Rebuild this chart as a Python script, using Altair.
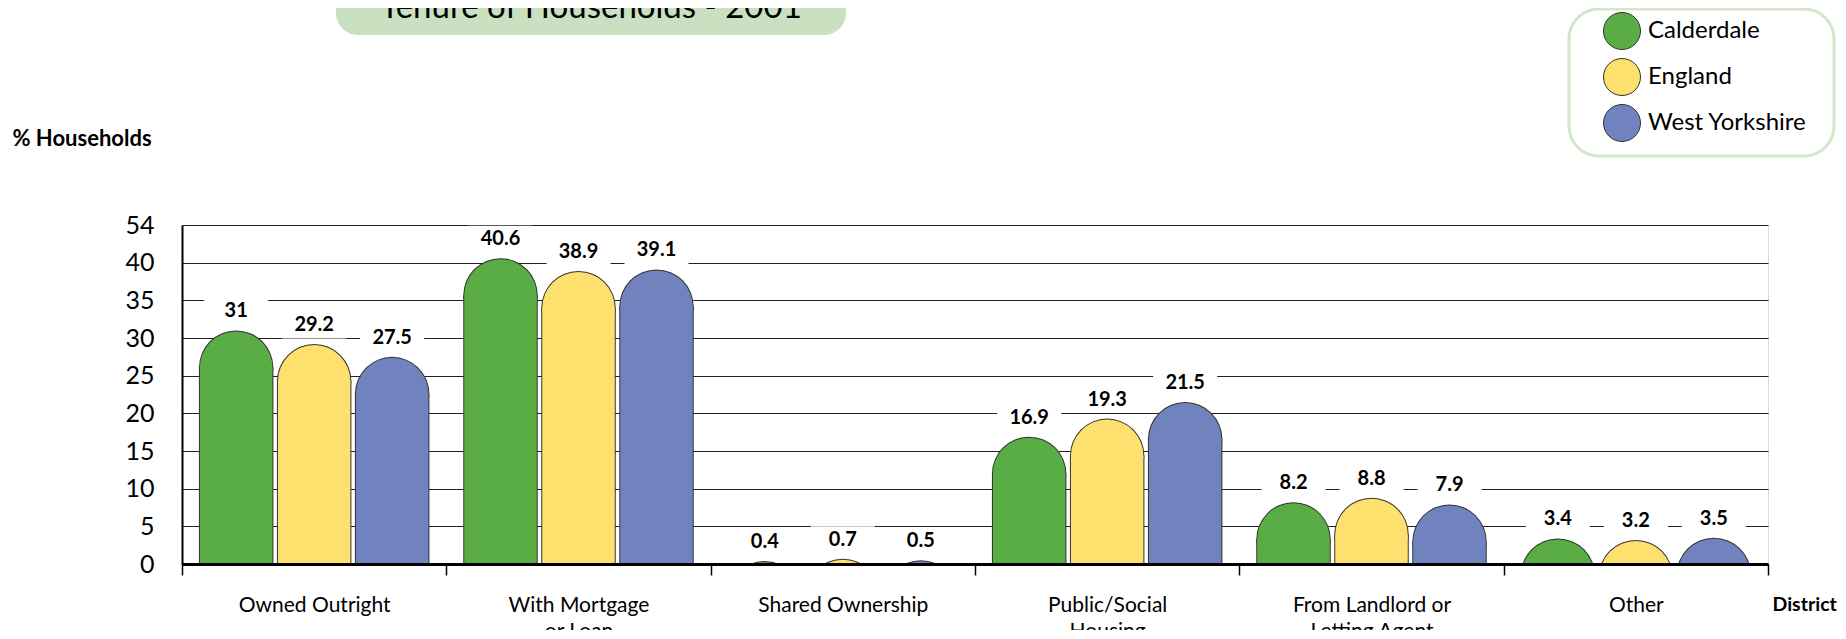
import altair as alt
import pandas as pd

# ---- data ----
categories = ["Owned Outright", "With Mortgage\nor Loan", "Shared Ownership",
              "Public/Social\nHousing", "From Landlord or\nLetting Agent", "Other"]
series = ["Calderdale", "England", "West Yorkshire"]
calderdale = [31, 40.6, 0.4, 16.9, 8.2, 3.4]
england = [29.2, 38.9, 0.7, 19.3, 8.8, 3.2]
west_yorkshire = [27.5, 39.1, 0.5, 21.5, 7.9, 3.5]
colors = ["#5aad44", "#fee06e", "#7183bf"]
y_ticks = [0, 5, 10, 15, 20, 25, 30, 35, 40, 45]
chart_title = "Tenure of Households - 2001"

# ---- layout (pixels) ----
PLOT_W, PLOT_H = 1586, 339
Y_MAX = 45
PAD_IN, PAD_OUT = 0.045, 0.217
band = PLOT_W / len(categories)
step = band / (len(series) - PAD_IN + 2 * PAD_OUT)
bar_w = step * (1 - PAD_IN)
px_per_unit = PLOT_H / Y_MAX
r_units = (bar_w / 2) / px_per_unit
label_off_units = 19 / px_per_unit
FONT = "Lato"

rows = []
for cat, a, b, c in zip(categories, calderdale, england, west_yorkshire):
    for s, v in zip(series, (a, b, c)):
        cy = v - r_units
        rows.append({"cat": cat, "series": s, "value": v, "label": f"{v:g}",
                     "cy": cy, "body": max(cy, 0.0), "ybox": v + label_off_units})
df = pd.DataFrame(rows)

yscale = alt.Scale(domain=[0, Y_MAX], nice=False, zero=True)
yaxis = alt.Axis(values=y_ticks, labelExpr="datum.value == 45 ? '54' : datum.label",
                 ticks=False, tickSize=0, labelPadding=28, labelFontSize=25, labelFont=FONT,
                 labelColor="black", domainColor="black", domainWidth=2,
                 grid=True, gridColor="#222", gridWidth=1, gridOpacity=1,
                 titleAngle=0, titleX=-170, titleY=-87, titleAlign="left",
                 titleBaseline="middle", titleFont=FONT, titleFontSize=22,
                 titleFontWeight="bold", titleColor="black")
xaxis = alt.Axis(tickBand="extent", ticks=True, tickSize=11, tickWidth=1.5, tickColor="black",
                 domainColor="black", domainWidth=3, labelAngle=0,
                 labelExpr="split(datum.label, '\\n')", labelFont=FONT, labelFontSize=21,
                 labelColor="black", labelPadding=19, labelLineHeight=26,
                 grid=False, zindex=1,
                 titleX=1590, titleY=40, titleAlign="left", titleBaseline="middle",
                 titleFont=FONT, titleFontSize=19.5, titleFontWeight="bold", titleColor="black")

X = alt.X("cat:N", sort=categories, scale=alt.Scale(paddingInner=0, paddingOuter=0),
          axis=xaxis, title="District")
XO = alt.XOffset("series:N", sort=series,
                 scale=alt.Scale(domain=series, paddingInner=PAD_IN, paddingOuter=PAD_OUT))
cscale = alt.Scale(domain=series, range=colors)
legend = alt.Legend(orient="none", legendX=1387, legendY=-213, title=None,
                    symbolType="circle", symbolSize=1369, symbolStrokeColor="#333",
                    symbolStrokeWidth=1, symbolOpacity=1, labelFont=FONT, labelFontSize=24,
                    labelColor="black", labelOffset=7, rowPadding=4, padding=0,
                    symbolOffset=34)

def Y(field):
    return alt.Y(f"{field}:Q", scale=yscale, axis=yaxis, title="% Households")

base = alt.Chart(df)

boxes = base.mark_point(shape="M-1,-0.42H1V0.42H-1Z", filled=True, color="white",
                        opacity=1, strokeWidth=0, size=64 * 64).encode(x=X, xOffset=XO, y=Y("ybox"))
dark_body = base.mark_bar(color="#333", width=bar_w).encode(x=X, xOffset=XO, y=Y("body"))
dark_cap = base.mark_circle(color="#333", opacity=1, size=bar_w ** 2, clip=True).encode(
    x=X, xOffset=XO, y=Y("cy"))
body = base.mark_bar(width=bar_w - 2, opacity=1).encode(
    x=X, xOffset=XO, y=Y("body"),
    color=alt.Color("series:N", scale=cscale, legend=legend))
cap = base.mark_circle(opacity=1, size=(bar_w - 2) ** 2, clip=True).encode(
    x=X, xOffset=XO, y=Y("cy"),
    color=alt.Color("series:N", scale=cscale, legend=legend))
labels = base.mark_text(dy=-19, font=FONT, fontSize=20, fontWeight="bold",
                        color="black", baseline="middle").encode(
    x=X, xOffset=XO, y=Y("value"), text="label:N")

tdf = pd.DataFrame({"t": [chart_title]})
title_box = alt.Chart(tdf).mark_rect(color="#c9e1c0", cornerRadius=22).encode(
    x=alt.value(154), x2=alt.value(664), y=alt.value(-260), y2=alt.value(-190))
title_text = alt.Chart(tdf).mark_text(font=FONT, fontSize=33, align="center",
                                      baseline="alphabetic", color="black").encode(
    x=alt.value(409), y=alt.value(-207), text="t:N")
legend_box = alt.Chart(tdf).mark_rect(fill="white", stroke="#d2e6cb", strokeWidth=3,
                                      cornerRadius=30).encode(
    x=alt.value(1387), x2=alt.value(1652), y=alt.value(-216), y2=alt.value(-69))

chart = alt.layer(title_box, title_text, legend_box, boxes, dark_body, dark_cap, body, cap,
                  labels).properties(
    width=PLOT_W, height=PLOT_H,
    padding={"left": 174, "top": 217, "right": 70, "bottom": 66},
    autosize=alt.AutoSizeParams(type="none"),
).configure_view(stroke=None).configure(background="white")

chart.save("out.html", embed_options={"renderer": "svg", "actions": False})
